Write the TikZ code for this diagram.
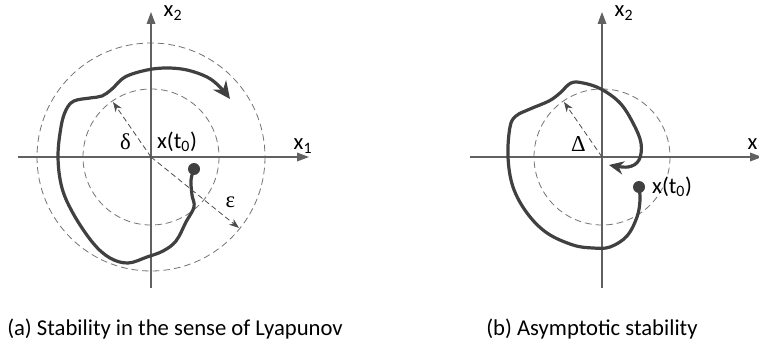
\documentclass[tikz,border=0pt]{standalone}
\usepackage{fontspec}
\setmainfont{Carlito}
\newfontfamily\grk{Liberation Serif}
\usetikzlibrary{arrows.meta,positioning}

\begin{document}
\begin{tikzpicture}[
  x=0.75pt, y=-0.75pt,
  font=\fontsize{17}{20}\selectfont,
  axis/.style={draw=black!62, line width=0.9pt, -{Triangle[length=9pt, width=6.5pt]}},
  ring/.style={draw=black!55, line width=0.6pt, dash pattern=on 5pt off 3pt},
  rad/.style={draw=black!70, line width=0.6pt, dash pattern=on 4pt off 2.5pt,
              -{Stealth[length=7.5pt, width=5.5pt]}},
  traj/.style={draw=black!75, line width=2.4pt, line join=round, line cap=round},
  start/.style={circle, fill=black!75, inner sep=0pt, minimum size=9pt},
  lbl/.style={inner sep=1pt},
  caption/.style={anchor=west, inner sep=0pt, font=\fontsize{17}{20}\selectfont},
]
\useasboundingbox (0,0) rectangle (759,349);

% --- (a) Lyapunov ---
\coordinate (oa) at (151,157);
\coordinate (axw) at (18,157);
\coordinate (axe) at (309,157);
\coordinate (ays) at (151,288);
\coordinate (ayn) at (151,12);
\draw[ring] (oa) circle (114);
\draw[ring] (oa) circle (68);
\draw[axis] (axw) -- (axe);
\draw[axis] (ays) -- (ayn);
\node[start] (dot-a) at (194,169) {};
\draw[traj, -{Stealth[length=13pt, width=12pt]}] plot[smooth, tension=0.6] coordinates {
  (dot-a.center) (191,180) (192,195) (194,207) (186,222) (176,241) (163,251)
  (147,257) (128,263) (110,258) (93,243) (74,215) (62,188) (58,157) (61,127)
  (66,110) (74,101) (90,98) (102,96) (112,89) (125,77) (147,70) (167,68)
  (187,70) (207,77) (220,87) (230,99)};
\coordinate (dtip) at (113,102);
\coordinate (etip) at (239,228);
\draw[rad] (oa) -- (dtip);
\draw[rad] (oa) -- (etip);
\node[lbl] (x2-a) at (173,13) {x\textsubscript{2}};
\node[lbl] (x1-a) at (303,146) {x\textsubscript{1}};
\node[lbl] (del) at (125.5,142) {\grk δ};
\node[lbl] (x0-a) at (177,142) {x(t\textsubscript{0})};
\node[lbl] (eps) at (230.5,202) {\grk ε};
\node[caption] (cap-a) at (7,329) {(a) Stability in the sense of Lyapunov};

% --- (b) asymptotic ---
\coordinate (ob) at (602,157);
\coordinate (bxw) at (470,157);
\coordinate (bxe) at (762,157);
\coordinate (bys) at (602,288);
\coordinate (byn) at (602,12);
\draw[ring] (ob) circle (68);
\draw[axis] (bxw) -- (bxe);
\draw[axis] (bys) -- (byn);
\node[start] (dot-b) at (639,187) {};
\draw[traj, -{Stealth[length=11pt, width=10pt]}] plot[smooth, tension=0.6] coordinates {
  (dot-b.center) (640,200) (637,217) (627,236) (610,247) (593,248) (573,245)
  (547,233) (527,213) (513,187) (508,157) (510,127) (516,116) (530,109)
  (549,101) (560,93) (571,83) (583,83) (601,89) (620,103) (633,123)
  (641,143) (639,160) (628,167) (609,165)};
\coordinate (Dtip) at (564,102);
\draw[rad] (ob) -- (Dtip);
\node[lbl] (x2-b) at (624,13) {x\textsubscript{2}};
\node[lbl, anchor=west] (x1-b) at (746,146) {x\textsubscript{1}};
\node[lbl] (Del) at (578.5,144) {\grk Δ};
\node[lbl, right=4pt of dot-b] (x0-b) {x(t\textsubscript{0})};
\node[caption] (cap-b) at (486,329) {(b) Asymptotic stability};
\end{tikzpicture}
\end{document}
